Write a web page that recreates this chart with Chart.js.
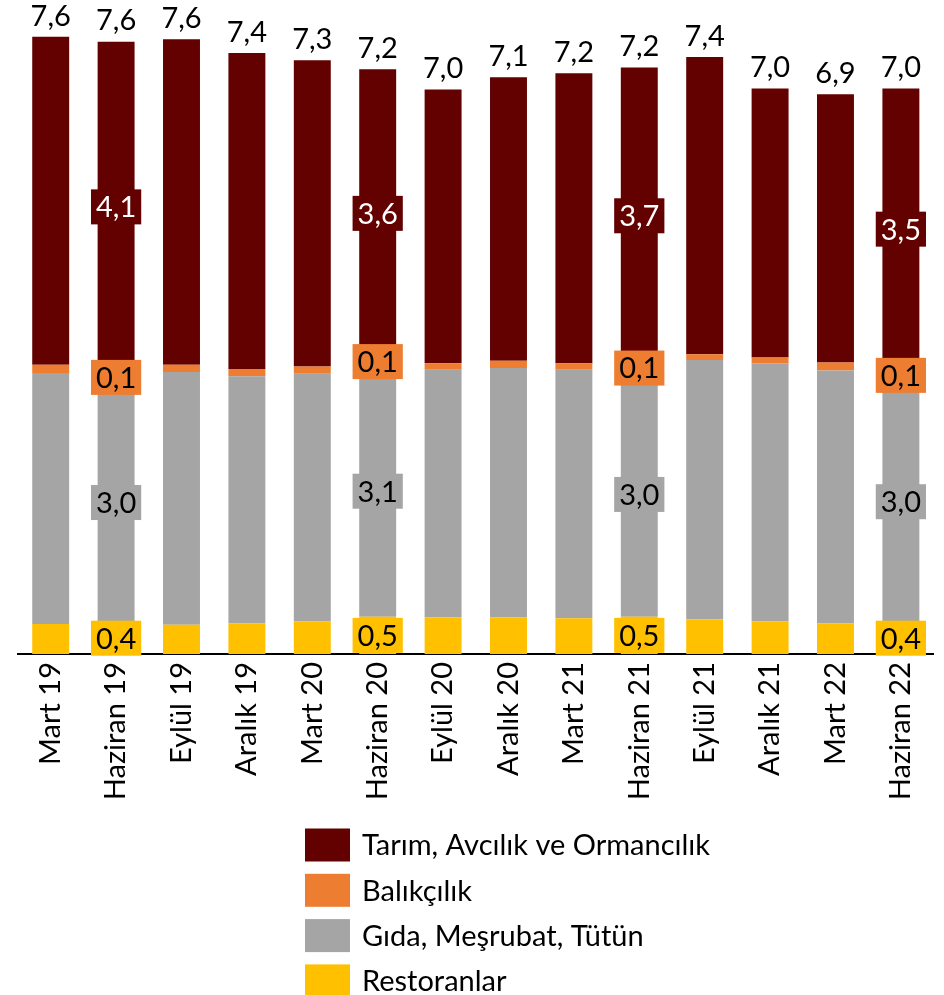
<!DOCTYPE html>
<html>
<head>
<meta charset="utf-8">
<script src="https://cdn.jsdelivr.net/npm/chart.js@4.4.1/dist/chart.umd.min.js"></script>
<style>
  html, body { margin: 0; padding: 0; background: #ffffff; }
  #wrap { width: 944px; height: 995px; }
</style>
</head>
<body>
<div id="wrap"><canvas id="c" width="944" height="995"></canvas></div>
<script>
// ---- Data ----
const categories = ["Mart 19","Haziran 19","Eylül 19","Aralık 19","Mart 20","Haziran 20","Eylül 20","Aralık 20","Mart 21","Haziran 21","Eylül 21","Aralık 21","Mart 22","Haziran 22"];
const tarim      = [4.05, 4.08, 4.02, 3.90, 3.78, 3.56, 3.38, 3.50, 3.58, 3.66, 3.67, 3.32, 3.31, 3.47];
const balikcilik = [0.10, 0.13, 0.09, 0.09, 0.09, 0.10, 0.08, 0.09, 0.08, 0.10, 0.07, 0.07, 0.10, 0.14];
const gida       = [3.10, 2.96, 3.12, 3.05, 3.06, 3.10, 3.06, 3.08, 3.07, 3.02, 3.20, 3.19, 3.12, 2.98];
const restoran   = [0.37, 0.39, 0.36, 0.38, 0.40, 0.46, 0.45, 0.45, 0.44, 0.46, 0.43, 0.40, 0.38, 0.39];
const seriesNames = ["Tarım, Avcılık ve Ormancılık", "Balıkçılık", "Gıda, Meşrubat, Tütün", "Restoranlar"];
const labeledIndices = [1, 5, 9, 13];

const FONT = "Lato, 'Open Sans', sans-serif";
const fmt = v => (Math.round(v * 10) / 10).toFixed(1).replace('.', ',');

const colors = {
  tarim: '#630000',
  balik: '#ED7D31',
  gida: '#A5A5A5',
  rest: '#FFC000'
};

// Datasets stacked from bottom to top
const datasets = [
  { label: seriesNames[3], data: restoran, backgroundColor: colors.rest, textColor: '#000' },
  { label: seriesNames[2], data: gida, backgroundColor: colors.gida, textColor: '#000' },
  { label: seriesNames[1], data: balikcilik, backgroundColor: colors.balik, textColor: '#000' },
  { label: seriesNames[0], data: tarim, backgroundColor: colors.tarim, textColor: '#fff' }
].map(d => Object.assign(d, { barPercentage: 0.565, categoryPercentage: 1.0, borderWidth: 0 }));

const labelPlugin = {
  id: 'labels',
  afterDatasetsDraw(chart) {
    const ctx = chart.ctx;
    ctx.save();
    ctx.font = '29px ' + FONT;
    ctx.textAlign = 'center';
    ctx.textBaseline = 'middle';
    // segment labels
    chart.data.datasets.forEach((ds, di) => {
      const meta = chart.getDatasetMeta(di);
      labeledIndices.forEach(i => {
        const el = meta.data[i];
        const cy = (el.y + el.base) / 2;
        const txt = fmt(ds.data[i]);
        const w = ctx.measureText(txt).width + 10;
        const h = 35;
        ctx.fillStyle = ds.backgroundColor;
        ctx.fillRect(el.x - w / 2, cy - h / 2, w, h);
        ctx.fillStyle = ds.textColor;
        ctx.fillText(txt, el.x, cy + 1);
      });
    });
    // totals
    const topMeta = chart.getDatasetMeta(chart.data.datasets.length - 1);
    ctx.fillStyle = '#000';
    ctx.textBaseline = 'bottom';
    categories.forEach((c, i) => {
      let sum = 0;
      chart.data.datasets.forEach(ds => sum += ds.data[i]);
      const el = topMeta.data[i];
      ctx.fillText(fmt(sum), el.x, el.y - 6);
    });
    ctx.restore();
  },
  afterDraw(chart) {
    const ctx = chart.ctx;
    ctx.save();
    ctx.font = '29px ' + FONT;
    ctx.textAlign = 'left';
    ctx.textBaseline = 'middle';
    const order = [3, 2, 1, 0];
    order.forEach((di, k) => {
      const ds = chart.data.datasets[di];
      const cy = 845 + k * 45.3;
      ctx.fillStyle = ds.backgroundColor;
      ctx.fillRect(305, cy - 16.5, 45, 33);
      ctx.fillStyle = '#000';
      ctx.fillText(ds.label, 362, cy + 1);
    });
    ctx.restore();
  }
};

new Chart(document.getElementById('c'), {
  type: 'bar',
  data: { labels: categories, datasets: datasets },
  options: {
    responsive: false,
    devicePixelRatio: 1,
    animation: false,
    layout: { padding: { left: 18, right: 9, top: 6, bottom: 0 } },
    plugins: { legend: { display: false }, tooltip: { enabled: false } },
    scales: {
      x: {
        stacked: true,
        grid: { display: false, drawTicks: false },
        border: { display: true, color: '#000', width: 2 },
        ticks: {
          color: '#000',
          font: { family: FONT, size: 29 },
          minRotation: 90, maxRotation: 90,
          autoSkip: false,
          padding: 8
        },
        afterFit(scale) { scale.height = 341; }
      },
      y: {
        stacked: true,
        display: false,
        min: 0, max: 8
      }
    }
  },
  plugins: [labelPlugin]
});
</script>
</body>
</html>
